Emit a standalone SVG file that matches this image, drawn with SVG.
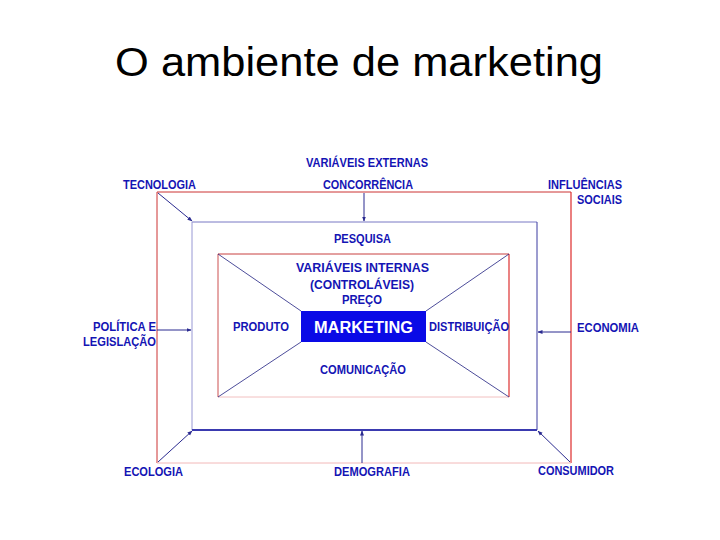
<svg xmlns="http://www.w3.org/2000/svg" width="720" height="540" viewBox="0 0 720 540">
<defs>
<marker id="ah" viewBox="0 0 10 10" refX="9" refY="5" markerWidth="5" markerHeight="5" orient="auto" markerUnits="userSpaceOnUse">
<path d="M0,1 L10,5 L0,9 z" fill="#2a2a90"/>
</marker>
<style>
.t{font-family:"Liberation Sans",Arial,sans-serif;font-weight:bold;font-size:12px;fill:#1414b4}
.ttl{font-family:"Liberation Sans",Arial,sans-serif;font-size:41px;fill:#000}
.ar{stroke:#2a2a90;stroke-width:1;fill:none;marker-end:url(#ah)}
.dg{stroke:#202080;stroke-width:0.8;fill:none}
</style>
</defs>
<rect width="720" height="540" fill="#fff"/>
<text class="ttl" x="115" y="76" textLength="488" lengthAdjust="spacingAndGlyphs">O ambiente de marketing</text>

<g id="frames">
<line x1="157" y1="192" x2="571" y2="192" stroke="#cc3333" stroke-width="1"/>
<line x1="157" y1="192" x2="157" y2="463" stroke="#cc3333" stroke-width="1"/>
<line x1="571" y1="192" x2="571" y2="463" stroke="#dd2a2a" stroke-width="1.2"/>
<line x1="157" y1="463" x2="571" y2="463" stroke="#f2b8b8" stroke-width="1"/>

<line x1="192" y1="222" x2="537" y2="222" stroke="#7878c4" stroke-width="1"/>
<line x1="192" y1="222" x2="192" y2="430" stroke="#9898d4" stroke-width="1"/>
<line x1="537" y1="222" x2="537" y2="430" stroke="#3a3aa0" stroke-width="1"/>
<line x1="192" y1="430" x2="537" y2="430" stroke="#3a3ab0" stroke-width="2"/>

<line x1="218" y1="254" x2="509" y2="254" stroke="#c84040" stroke-width="1"/>
<line x1="218" y1="254" x2="218" y2="397" stroke="#cc5050" stroke-width="1"/>
<line x1="509" y1="254" x2="509" y2="397" stroke="#dd3030" stroke-width="1.2"/>
<line x1="218" y1="397" x2="509" y2="397" stroke="#f2c0c0" stroke-width="1"/>

<line class="dg" x1="218" y1="254" x2="301" y2="311"/>
<line class="dg" x1="218" y1="397" x2="301" y2="342"/>
<line class="dg" x1="509" y1="254" x2="426" y2="311"/>
<line class="dg" x1="509" y1="397" x2="426" y2="342"/>
</g>

<g id="connectors">
<line class="ar" x1="158" y1="193" x2="192" y2="221"/>
<line class="ar" x1="364" y1="193" x2="364" y2="221" stroke="#8080c0"/>
<line class="ar" x1="157" y1="330" x2="191" y2="330"/>
<line class="ar" x1="571" y1="332" x2="538" y2="332"/>
<line class="ar" x1="158" y1="462" x2="192" y2="431"/>
<line class="ar" x1="362" y1="463" x2="362" y2="431"/>
<line class="ar" x1="570" y1="462" x2="538" y2="431"/>
</g>

<g id="marketing">
<rect x="301" y="311" width="125" height="31" fill="#0a0ae6"/>
<text x="314" y="333" textLength="99" lengthAdjust="spacingAndGlyphs" style="font-family:'Liberation Sans',Arial,sans-serif;font-size:16px;font-weight:bold;fill:#fff">MARKETING</text>
</g>

<g id="labels">
<text class="t" x="306" y="167" textLength="122" lengthAdjust="spacingAndGlyphs">VARIÁVEIS EXTERNAS</text>
<text class="t" x="323" y="189" textLength="90" lengthAdjust="spacingAndGlyphs">CONCORRÊNCIA</text>
<text class="t" x="123" y="189" textLength="73" lengthAdjust="spacingAndGlyphs">TECNOLOGIA</text>
<text class="t" x="548" y="189" textLength="74" lengthAdjust="spacingAndGlyphs">INFLUÊNCIAS</text>
<text class="t" x="577" y="204" textLength="45" lengthAdjust="spacingAndGlyphs">SOCIAIS</text>
<text class="t" x="334" y="243" textLength="57" lengthAdjust="spacingAndGlyphs">PESQUISA</text>
<text class="t" x="296" y="272" textLength="133" lengthAdjust="spacingAndGlyphs">VARIÁVEIS INTERNAS</text>
<text class="t" x="310" y="289" textLength="104" lengthAdjust="spacingAndGlyphs">(CONTROLÁVEIS)</text>
<text class="t" x="342" y="304" textLength="40" lengthAdjust="spacingAndGlyphs">PREÇO</text>
<text class="t" x="233" y="331" textLength="56" lengthAdjust="spacingAndGlyphs">PRODUTO</text>
<text class="t" x="429" y="331" textLength="80" lengthAdjust="spacingAndGlyphs">DISTRIBUIÇÃO</text>
<text class="t" x="93" y="331" textLength="63" lengthAdjust="spacingAndGlyphs">POLÍTICA E</text>
<text class="t" x="83" y="346" textLength="73" lengthAdjust="spacingAndGlyphs">LEGISLAÇÃO</text>
<text class="t" x="577" y="332" textLength="62" lengthAdjust="spacingAndGlyphs">ECONOMIA</text>
<text class="t" x="320" y="374" textLength="86" lengthAdjust="spacingAndGlyphs">COMUNICAÇÃO</text>
<text class="t" x="124" y="476" textLength="59" lengthAdjust="spacingAndGlyphs">ECOLOGIA</text>
<text class="t" x="334" y="476" textLength="76" lengthAdjust="spacingAndGlyphs">DEMOGRAFIA</text>
<text class="t" x="538" y="475" textLength="76" lengthAdjust="spacingAndGlyphs">CONSUMIDOR</text>
</g>
</svg>
